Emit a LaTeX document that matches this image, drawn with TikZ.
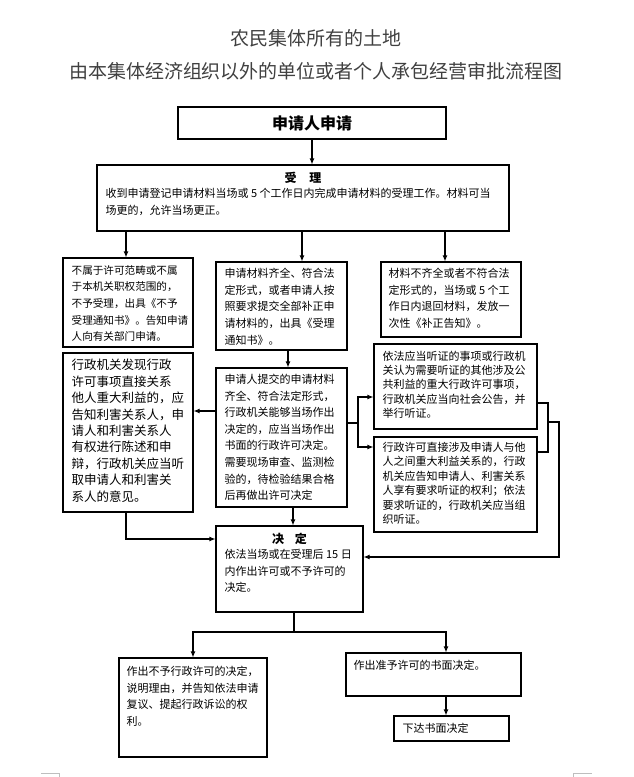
\documentclass[tikz,border=0pt]{standalone}
\usepackage{fontspec}
\setmainfont{Noto Sans CJK SC}
\usetikzlibrary{arrows.meta}
\definecolor{titleGray}{RGB}{64, 64, 64}
\definecolor{markGray}{RGB}{190, 190, 190}

\begin{document}
\begin{tikzpicture}[x=1pt, y=-1pt,
        box/.style={draw, line width=1.1pt, inner sep=0pt},
        txt/.style={anchor=north west, inner sep=0pt, align=left, font=\fontsize{11}{16.7}\selectfont},
        head/.style={inner sep=0pt, font=\bfseries\fontsize{12}{12}\selectfont},
        link/.style={line width=1.1pt},
        arr/.style={line width=1.1pt, -{Latex[length=6pt, width=5pt]}}]
        \useasboundingbox (0,0) rectangle (633,777);

        \node[font=\fontsize{19}{19}\selectfont, text=titleGray] (title1) at (316,38) {农民集体所有的土地};
        \node[font=\fontsize{19}{19}\selectfont, text=titleGray] (title2) at (316,71) {由本集体经济组织以外的单位或者个人承包经营审批流程图};

        \node[box, minimum width=268pt, minimum height=32pt, font=\bfseries\fontsize{16}{16}\selectfont] (apply) at (312,123) {申请人申请};
        \node[box, minimum width=412pt, minimum height=66pt] (accept) at (303,198) {};
        \node[box, minimum width=130pt, minimum height=89pt] (reject) at (128,302.5) {};
        \node[box, minimum width=131pt, minimum height=88pt] (ok1) at (281.5,306) {};
        \node[box, minimum width=140pt, minimum height=75pt] (fix) at (451,299.5) {};
        \node[box, minimum width=130pt, minimum height=159pt] (notify) at (128,432.5) {};
        \node[box, minimum width=131pt, minimum height=139pt] (ok2) at (281.5,437.5) {};
        \node[box, minimum width=163pt, minimum height=85pt] (hear1) at (455.5,386.5) {};
        \node[box, minimum width=163pt, minimum height=95pt] (hear2) at (455.5,484.5) {};
        \node[box, minimum width=147pt, minimum height=86pt] (decide) at (289.5,569) {};
        \node[box, minimum width=148pt, minimum height=99pt] (deny) at (193,707.5) {};
        \node[box, minimum width=175pt, minimum height=43pt] (grant) at (433.5,674.5) {};
        \node[box, minimum width=115pt, minimum height=25pt] (issue) at (451.5,728.5) {};

        \node[head] (h-accept) at ([shift={(0,13)}]accept.north) {受\hspace{13pt}理};
        \node[txt, font=\fontsize{11}{17}\selectfont] (t-accept) at ([shift={(9,23.5)}]accept.north west) {收到申请登记申请材料当场或 5 个工作日内完成申请材料的受理工作。材料可当\\场更的，允许当场更正。};
        \node[txt, font=\fontsize{10.6}{16.7}\selectfont] (t-reject) at ([shift={(9,7.5)}]reject.north west) {不属于许可范畴或不属\\于本机关职权范围的，\\不予受理，出具《不予\\受理通知书》。告知申请\\人向有关部门申请。};
        \node[txt] (t-ok1) at ([shift={(9,6.5)}]ok1.north west) {申请材料齐全、符合法\\定形式，或者申请人按\\照要求提交全部补正申\\请材料的，出具《受理\\通知书》。};
        \node[txt, font=\fontsize{11}{16.5}\selectfont] (t-fix) at ([shift={(8,6.5)}]fix.north west) {材料不齐全或者不符合法\\定形式的，当场或 5 个工\\作日内退回材料，发放一\\次性《补正告知》。};
        \node[txt, font=\fontsize{12.5}{16.4}\selectfont] (t-notify) at ([shift={(9,6.7)}]notify.north west) {行政机关发现行政\\许可事项直接关系\\他人重大利益的，应\\告知利害关系人，申\\请人和利害关系人\\有权进行陈述和申\\辩，行政机关应当听\\取申请人和利害关\\系人的意见。};
        \node[txt, font=\fontsize{11}{16.6}\selectfont] (t-ok2) at ([shift={(9,6.5)}]ok2.north west) {申请人提交的申请材料\\齐全、符合法定形式，\\行政机关能够当场作出\\决定的，应当当场作出\\书面的行政许可决定。\\需要现场审查、监测检\\验的，待检验结果合格\\后再做出许可决定};
        \node[txt, font=\fontsize{11}{14.2}\selectfont] (t-hear1) at ([shift={(9,7.5)}]hear1.north west) {依法应当听证的事项或行政机\\关认为需要听证的其他涉及公\\共利益的重大行政许可事项，\\行政机关应当向社会公告，并\\举行听证。};
        \node[txt, font=\fontsize{11}{14.4}\selectfont] (t-hear2) at ([shift={(9,5.5)}]hear2.north west) {行政许可直接涉及申请人与他\\人之间重大利益关系的，行政\\机关应告知申请人、利害关系\\人享有要求听证的权利；依法\\要求听证的，行政机关应当组\\织听证。};
        \node[head] (h-decide) at ([shift={(0,13)}]decide.north) {决\hspace{11pt}定};
        \node[txt] (t-decide) at ([shift={(9,23.5)}]decide.north west) {依法当场或在受理后 15 日\\内作出许可或不予许可的\\决定。};
        \node[txt] (t-deny) at ([shift={(8,8.5)}]deny.north west) {作出不予行政许可的决定，\\说明理由，并告知依法申请\\复议、提起行政诉讼的权\\利。};
        \node[txt] (t-grant) at ([shift={(8,7.5)}]grant.north west) {作出准予许可的书面决定。};
        \node[txt, anchor=west] (t-issue) at ([xshift=9pt]issue.west) {下达书面决定};

        \draw[arr] (apply.south) -- (apply.south |- accept.north);
        \draw[arr] ([xshift=-2pt]reject.north |- accept.south) -- ([xshift=-2pt]reject.north);
        \draw[arr] ([xshift=20.5pt]ok1.north |- accept.south) -- ([xshift=20.5pt]ok1.north);
        \draw[arr] ([xshift=-6pt]fix.north |- accept.south) -- ([xshift=-6pt]fix.north);
        \draw[arr] ([xshift=6.5pt]ok1.south) -- ([xshift=6.5pt]ok1.south |- ok2.north);
        \draw[arr] ([yshift=26.5pt]ok2.west) -- ([yshift=26.5pt]ok2.west -| notify.east);

        \coordinate (fork) at (358,423);
        \draw[link] (fork -| ok2.east) -- (fork);
        \draw[arr] (fork) |- ([yshift=-10.5pt]hear1.west);
        \draw[arr] (fork) |- ([yshift=37.5pt]hear2.west);

        \coordinate (merge) at (548,422);
        \draw[link] ([yshift=-16.5pt]hear1.east) -| (merge) |- ([yshift=32.5pt]hear2.east);
        \draw[arr] (merge) -- ++(11,0) |- ([yshift=12pt]decide.east);

        \draw[arr] ([xshift=-2pt]notify.south) |- ([yshift=30pt]decide.west);
        \draw[arr] ([xshift=11.5pt]ok2.south) -- ([xshift=11.5pt]ok2.south |- decide.north);

        \coordinate (split) at (294,632);
        \draw[link] ([xshift=4.5pt]decide.south) -- (split);
        \draw[arr] (split) -| (deny.north);
        \draw[arr] (split) -| ([xshift=12.5pt]grant.north);
        \draw[arr] ([xshift=12.5pt]grant.south) -- ([xshift=12.5pt]grant.south |- issue.north);

        \draw[markGray, line width=0.6pt] (41,773) -- (59,773) -- (59,777);
        \draw[markGray, line width=0.6pt] (573,777) -- (573,773) -- (592,773);
      \end{tikzpicture}
\end{document}
